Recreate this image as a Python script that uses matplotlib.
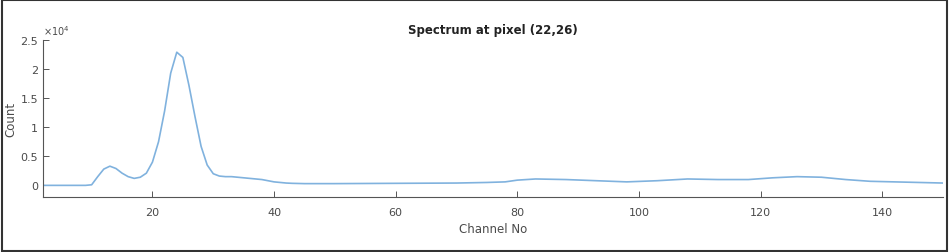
import matplotlib
matplotlib.use("Agg")
import matplotlib.pyplot as plt
import matplotlib.ticker as mticker
from matplotlib.patches import Rectangle

# Spectrum values (counts)
channels = [2, 3, 4, 5, 6, 7, 8, 9, 10, 11, 12, 13, 14, 15, 16, 17, 18, 19, 20,
            21, 22, 23, 24, 25, 26, 27, 28, 29, 30, 31, 32, 33, 34, 35, 36, 37,
            38, 39, 40, 41, 42, 43, 45, 50, 60, 70, 75, 78, 80, 83, 88, 93, 98,
            103, 108, 113, 118, 122, 126, 130, 134, 138, 142, 146, 150]
counts = [0, 0, 0, 0, 0, 0, 0, 0, 100, 1500, 2800, 3300, 2900, 2100, 1500,
          1200, 1400, 2100, 4000, 7500, 12800, 19300, 22900, 22000, 17200,
          11800, 6700, 3500, 2000, 1600, 1500, 1500, 1400, 1300, 1200, 1100,
          1000, 800, 600, 500, 400, 350, 300, 300, 350, 400, 500, 600, 900,
          1100, 1000, 800, 600, 800, 1100, 1000, 1000, 1300, 1500, 1400, 1000,
          700, 600, 500, 400]

title = 'Spectrum at pixel (22,26)'
x_ticks = [20, 40, 60, 80, 100, 120, 140]
y_ticks = [0, 5000, 10000, 15000, 20000, 25000]

txt = '#4a4a4a'
fig = plt.figure(figsize=(9.49, 2.53), dpi=100)
ax = fig.add_axes([0.0453, 0.2174, 0.9484, 0.6206])

ax.plot(channels, counts, color='#80b2de', linewidth=1.2, solid_joinstyle='round')

ax.set_xlim(2, 150)
ax.set_ylim(-2000, 25000)
ax.set_xticks(x_ticks)
ax.set_yticks(y_ticks)
ax.yaxis.set_major_formatter(mticker.FuncFormatter(lambda v, p: f'{v / 1e4:g}'))
ax.text(0.0, 1.02, r'$\times10^4$', transform=ax.transAxes, fontsize=7,
        color=txt, ha='left', va='bottom')

for s in ['top', 'right']:
    ax.spines[s].set_visible(False)
for s in ['left', 'bottom']:
    ax.spines[s].set_color('#555555')
    ax.spines[s].set_linewidth(0.8)

ax.tick_params(direction='in', length=4, width=0.7, colors='#555555',
               labelcolor=txt, labelsize=8)
ax.tick_params(axis='x', pad=7)
ax.set_title(title, fontsize=8.5, fontweight='bold', color='#222222', pad=5)
ax.set_xlabel('Channel No', fontsize=8.5, color=txt, labelpad=4)
ax.set_ylabel('Count', fontsize=8.5, color=txt, labelpad=2)

# frame around the whole figure
fig.patches.append(Rectangle((0.002, 0.004), 0.996, 0.992, transform=fig.transFigure,
                             fill=False, edgecolor='#333333', linewidth=1.5))

fig.savefig('out.png', dpi=100)
